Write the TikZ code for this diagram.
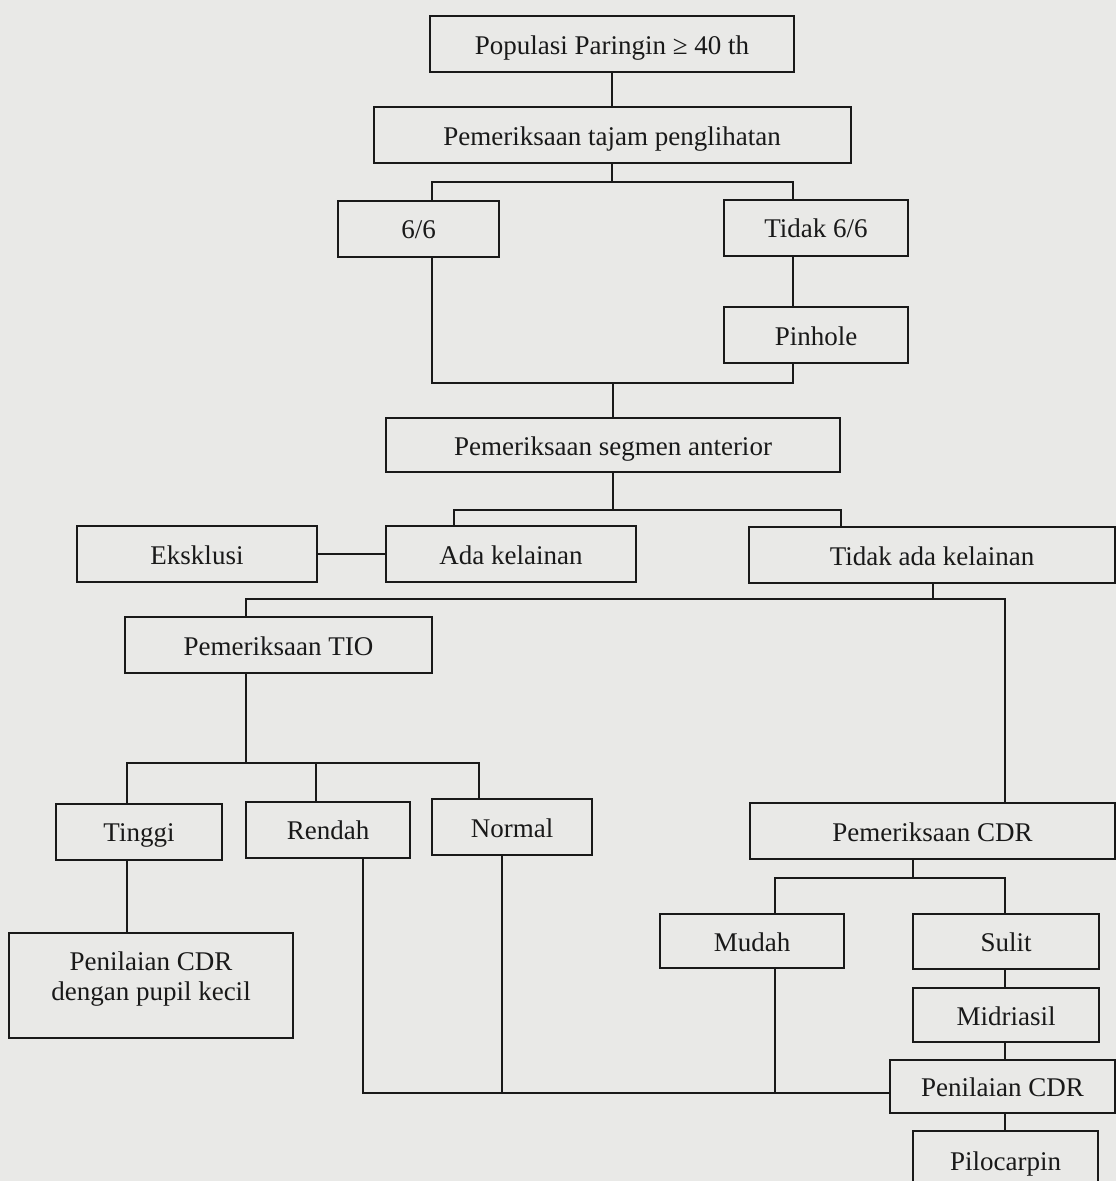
\documentclass[tikz,border=0pt]{standalone}
\usepackage{fontspec}
\setmainfont{Liberation Serif}
\usepackage{tikz}
\definecolor{paper}{RGB}{233,233,231}
\definecolor{ink}{RGB}{25,25,25}

\begin{document}
\begin{tikzpicture}[x=0.5pt,y=-0.5pt,line width=1pt,color=ink,
 box node/.style={rectangle,draw=ink,line width=1pt,inner sep=2pt,minimum height=28pt,
 text height=10pt,text depth=0pt,font=\fontsize{13.5}{15}\selectfont}]
\fill[paper] (0,0) rectangle (1116,1181);
\useasboundingbox (0,0) rectangle (1116,1181);
%1
  \node[box node,minimum width=182pt] (pop) at (612,44.5) {Populasi Paringin ≥ 40 th};
%2
  \node[box node,minimum width=238.5pt] (tajam) at (612,135.5) {Pemeriksaan tajam penglihatan};
%3
  \node[box node,minimum width=80.5pt] (six) at (418.5,229) {6/6};
  \node[box node,minimum width=92pt] (tidak66) at (816,228) {Tidak 6/6};
  \node[box node,minimum width=92pt] (pinhole) at (816,335.5) {Pinhole};
%4
  \node[box node,minimum width=227pt,minimum height=27pt] (segmen) at (613,445) {Pemeriksaan segmen anterior};
%5
  \node[box node,minimum width=120pt] (eksklusi) at (197,554) {Eksklusi};
  \node[box node,minimum width=125pt] (ada) at (511,554) {Ada kelainan};
  \node[box node,minimum width=183pt] (tidakada) at (932,555) {Tidak ada kelainan};
%6
  \node[box node,minimum width=153.5pt] (tio) at (278.5,645) {Pemeriksaan TIO};
  \node[box node,minimum width=83pt] (tinggi) at (139,831.5) {Tinggi};
  \node[box node,minimum width=82pt] (rendah) at (328,829.5) {Rendah};
  \node[box node,minimum width=80pt] (normal) at (512,827) {Normal};
  \node[box node,minimum width=142pt,minimum height=52.5pt,align=center,text height={},text depth={}] (pupil) at (151,985.5)
    {Penilaian CDR\\dengan pupil kecil\rule[-9pt]{0pt}{9pt}};
%7
  \node[box node,minimum width=182.5pt] (pcdr) at (932.5,831) {Pemeriksaan CDR};
  \node[box node,minimum width=92pt,minimum height=27pt] (mudah) at (752,941) {Mudah};
  \node[box node,minimum width=93pt,minimum height=27.5pt] (sulit) at (1006,941.5) {Sulit};
  \node[box node,minimum width=93pt,minimum height=27pt] (midriasil) at (1006,1015) {Midriasil};
  \node[box node,minimum width=112.5pt,minimum height=26.5pt] (penilaian) at (1002.5,1086.5) {Penilaian CDR};
  \node[box node,minimum width=92.5pt,minimum height=29pt] (pilocarpin) at (1005.5,1160) {Pilocarpin};
%junctions
  \coordinate (b1l) at (432,182);  \coordinate (b1r) at (793,182);
  \coordinate (b2l) at (432,383);  \coordinate (b2r) at (793,383);
  \coordinate (b3l) at (454,510);  \coordinate (b3r) at (841,510);
  \coordinate (b4l) at (246,599);  \coordinate (b4m) at (933,599);  \coordinate (b4r) at (1005,599);
  \coordinate (b5l) at (127,763);  \coordinate (b5m) at (246,763);  \coordinate (b5c) at (316,763);
  \coordinate (b5r) at (479,763);
  \coordinate (b6l) at (363,1093); \coordinate (b6n) at (502,1093); \coordinate (b6m) at (775,1093);
  \coordinate (b7l) at (775,878);  \coordinate (b7m) at (913,878);  \coordinate (b7r) at (1005,878);
%paths
  \draw (pop.south) -- (pop.south |- tajam.north);
  \draw (tajam.south) -- (tajam.south |- b1l);
  \draw (six.north -| b1l) -- (b1l) -- (b1r) -- (tidak66.north -| b1r);
  \draw (tidak66.south -| b1r) -- (pinhole.north -| b1r);
  \draw (six.south -| b2l) -- (b2l) -- (b2r) -- (pinhole.south -| b2r);
  \draw (segmen.north) -- (segmen.north |- b2l);
  \draw (segmen.south) -- (segmen.south |- b3l);
  \draw (ada.north -| b3l) -- (b3l) -- (b3r) -- (tidakada.north -| b3r);
  \draw (eksklusi) -- (ada);
  \draw (tidakada.south -| b4m) -- (b4m);
  \draw (tio.north -| b4l) -- (b4l) -- (b4r) -- (pcdr.north -| b4r);
  \draw (tio.south -| b5m) -- (b5m);
  \draw (tinggi.north -| b5l) -- (b5l) -- (b5r) -- (normal.north -| b5r);
  \draw (b5c) -- (rendah.north -| b5c);
  \draw (tinggi.south -| b5l) -- (pupil.north -| b5l);
  \draw (rendah.south -| b6l) -- (b6l) -- (penilaian.west |- b6l);
  \draw (normal.south -| b6n) -- (b6n);
  \draw (mudah.south -| b6m) -- (b6m);
  \draw (pcdr.south -| b7m) -- (b7m);
  \draw (mudah.north -| b7l) -- (b7l) -- (b7r) -- (sulit.north -| b7r);
  \draw (sulit.south -| b7r) -- (midriasil.north -| b7r);
  \draw (midriasil.south -| b7r) -- (penilaian.north -| b7r);
  \draw (penilaian.south -| b7r) -- (pilocarpin.north -| b7r);
\end{tikzpicture}
\end{document}
